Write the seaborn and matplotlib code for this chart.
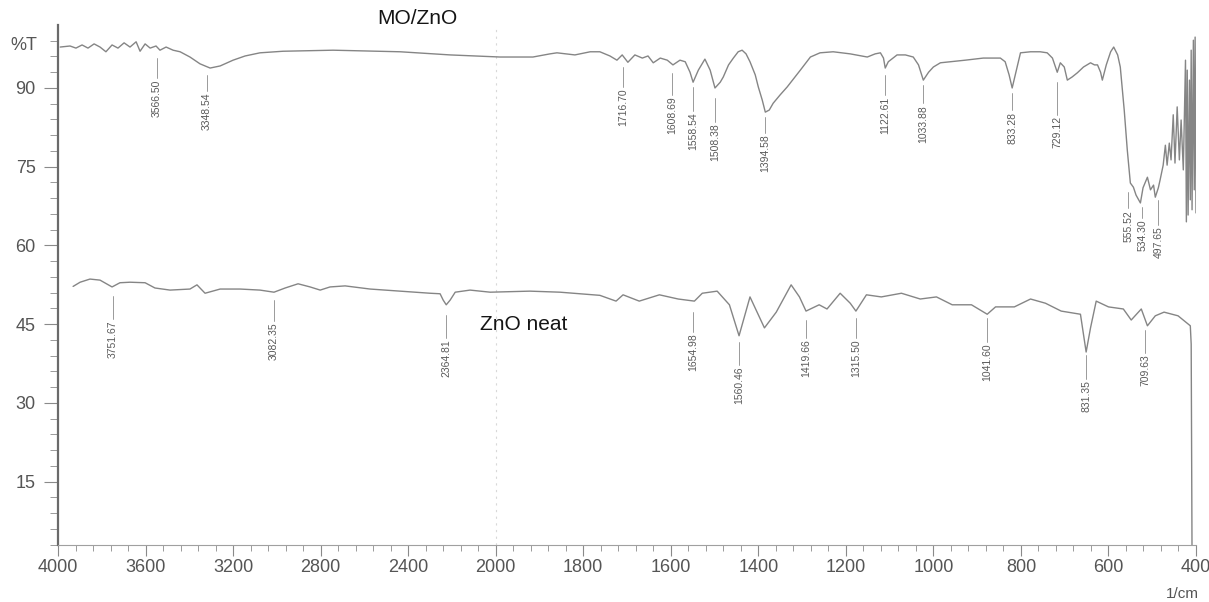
import numpy as np
import matplotlib
matplotlib.use("Agg")
import matplotlib.pyplot as plt
import seaborn as sns

# FTIR spectra (axis wavenumber, %T)
mo_wn = [3990, 3945, 3918, 3890, 3863, 3835, 3808, 3781, 3753, 3726, 3698, 3671, 3643, 3625,
         3602, 3579, 3552, 3534, 3506, 3474, 3442, 3397, 3351, 3305, 3259, 3200, 3145, 3077,
         2972, 2743, 2437, 2208, 1990, 1915, 1876, 1860, 1819, 1784, 1762, 1739, 1723, 1711,
         1698, 1682, 1665, 1652, 1640, 1624, 1608, 1595, 1579, 1567, 1556, 1549, 1537, 1522,
         1510, 1499, 1487, 1480, 1468, 1457, 1446, 1437, 1428, 1419, 1407, 1400, 1391, 1384,
         1375, 1366, 1350, 1334, 1316, 1304, 1281, 1259, 1229, 1190, 1151, 1133, 1121, 1114,
         1110, 1103, 1083, 1064, 1046, 1034, 1023, 1011, 1000, 984, 961, 927, 886, 847, 836,
         827, 820, 813, 801, 778, 756, 740, 728, 717, 710, 701, 694, 683, 671, 657, 641, 632,
         625, 618, 614, 605, 595, 588, 579, 573, 564, 557, 550, 543, 537, 527, 521, 511, 504,
         497, 493, 486, 482, 475, 470, 466, 461, 457, 452, 448, 443, 438, 434, 429, 424, 422,
         420, 418, 415, 413, 411, 409, 406, 404, 402, 400]
mo_t = [97.8, 98.0, 97.6, 98.2, 97.6, 98.4, 97.8, 96.9, 98.2, 97.6, 98.6, 97.8, 98.8, 97.0,
        98.4, 97.6, 98.0, 97.2, 97.8, 97.2, 96.9, 95.9, 94.6, 93.8, 94.2, 95.3, 96.1, 96.7,
        97.0, 97.2, 96.9, 96.3, 95.9, 95.9, 96.5, 96.7, 96.3, 96.9, 96.9, 96.1, 95.3, 96.3,
        94.9, 96.3, 95.7, 96.1, 94.8, 95.7, 95.3, 94.4, 95.3, 95.0, 93.0, 91.1, 93.4, 95.5,
        93.4, 90.0, 91.1, 92.1, 94.4, 95.7, 96.9, 97.2, 96.5, 95.0, 92.5, 90.2, 87.7, 85.4,
        85.8, 87.1, 88.7, 90.2, 92.1, 93.4, 95.9, 96.7, 96.9, 96.5, 95.9, 96.5, 96.7, 95.7,
        93.8, 95.0, 96.3, 96.3, 95.9, 94.4, 91.5, 93.0, 94.0, 94.8, 95.0, 95.3, 95.7, 95.7, 95.0,
        92.5, 90.0, 92.5, 96.7, 96.9, 96.9, 96.7, 95.7, 93.0, 94.8, 94.0, 91.5, 92.1, 92.9, 94.0,
        94.8, 94.4, 94.4, 93.0, 91.5, 94.4, 96.9, 97.8, 96.3, 94.0, 85.8, 78.2, 71.9, 71.1,
        69.6, 68.1, 71.0, 73.0, 70.6, 71.5, 69.2, 71.0, 72.5, 75.3, 79.1, 75.3, 79.5, 76.3,
        84.9, 75.7, 86.4, 76.3, 83.9, 74.4, 95.3, 64.5, 93.4, 65.8, 91.5, 68.7, 97.2, 66.8,
        99.1, 70.6, 99.7, 66.2]

zno_wn = [3931, 3899, 3854, 3808, 3753, 3717, 3671, 3602, 3557, 3488, 3397, 3365, 3328, 3259,
          3168, 3077, 3013, 2962, 2903, 2848, 2802, 2757, 2688, 2574, 2437, 2300, 2254, 2240,
          2226, 2208, 2185, 2117, 2025, 1922, 1853, 1762, 1725, 1709, 1672, 1626, 1583, 1546,
          1528, 1494, 1466, 1444, 1419, 1386, 1359, 1325, 1306, 1291, 1261, 1243, 1213, 1190,
          1177, 1153, 1119, 1073, 1030, 993, 957, 913, 877, 858, 815, 778, 744, 708, 664, 651,
          641, 628, 600, 566, 548, 525, 511, 493, 473, 441, 413, 411, 409]
zno_t = [52.2, 53.0, 53.6, 53.4, 52.1, 52.9, 53.0, 52.9, 51.9, 51.5, 51.7, 52.5, 50.9, 51.7,
         51.7, 51.5, 51.1, 51.9, 52.7, 52.1, 51.5, 52.1, 52.3, 51.7, 51.3, 50.9, 50.8, 49.6,
         48.7, 49.6, 51.1, 51.5, 51.1, 51.3, 51.1, 50.5, 49.4, 50.6, 49.4, 50.6, 49.8, 49.4,
         50.9, 51.3, 48.7, 42.8, 50.2, 44.3, 47.3, 52.5, 50.2, 47.5, 48.7, 47.9, 50.9, 49.0,
         47.5, 50.6, 50.2, 50.9, 49.8, 50.2, 48.7, 48.7, 46.9, 48.3, 48.3, 49.8, 49.0, 47.5,
         46.9, 39.7, 44.3, 49.4, 48.3, 47.9, 45.8, 47.9, 44.7, 46.6, 47.3, 46.6, 44.7, 41.2, 0.0]

# peak labels: position on axis, text, marker line top / bottom (%T)
mo_peak_wn = [3547, 3319, 1709, 1597, 1549, 1499, 1384, 1110, 1023, 820, 717, 555, 523, 486]
mo_peak_text = ["3566.50", "3348.54", "1716.70", "1608.69", "1558.54", "1508.38", "1394.58",
                "1122.61", "1033.88", "833.28", "729.12", "555.52", "534.30", "497.65"]
mo_peak_top = [95.7, 92.5, 94.0, 92.9, 90.2, 88.1, 84.5, 92.5, 90.6, 89.0, 91.1, 70.2, 67.3, 68.7]
mo_peak_bot = [91.9, 89.4, 90.2, 88.7, 85.6, 83.5, 81.4, 88.7, 87.1, 85.8, 84.9, 67.1, 65.2, 63.9]

zno_peak_wn = [3749, 3013, 2226, 1549, 1444, 1291, 1177, 877, 651, 516]
zno_peak_text = ["3751.67", "3082.35", "2364.81", "1654.98", "1560.46", "1419.66", "1315.50",
                 "1041.60", "831.35", "709.63"]
zno_peak_top = [50.4, 49.6, 46.8, 47.3, 41.6, 45.8, 46.2, 46.2, 39.1, 43.9]
zno_peak_bot = [46.0, 45.6, 42.4, 43.5, 37.2, 42.4, 42.4, 41.6, 34.6, 39.5]

x_major = [4000, 3600, 3200, 2800, 2400, 2000, 1800, 1600, 1400, 1200, 1000, 800, 600, 400]
y_major = [15, 30, 45, 60, 75, 90]

sns.set_theme(style="white")
plt.rcParams["font.family"] = ["Liberation Sans", "DejaVu Sans"]

fig = plt.figure(figsize=(12.09, 6.02), dpi=100)
ax = fig.add_axes([58 / 1209, 1 - 545 / 602, 1138 / 1209, 520 / 602])

line_kw = dict(color="#858585", linewidth=1.0, sort=False, estimator=None, ax=ax)
sns.lineplot(x=mo_wn, y=mo_t, **line_kw)
sns.lineplot(x=zno_wn, y=zno_t, **line_kw)

for wn, txt, top, bot in list(zip(mo_peak_wn, mo_peak_text, mo_peak_top, mo_peak_bot)) + \
        list(zip(zno_peak_wn, zno_peak_text, zno_peak_top, zno_peak_bot)):
    ax.plot([wn, wn], [top, bot], color="#8a8a8a", linewidth=0.6)
    ax.text(wn, bot - 0.3, txt, rotation=90, ha="center", va="top",
            fontsize=7.5, color="#5a5a5a")

ax.axvline(2000, color="#d8d8d8", linewidth=0.8, linestyle=(0, (2, 4)), zorder=0)

ax.text(2360, 103.2, "MO/ZnO", fontsize=15, color="#151515", ha="center", va="center",
        clip_on=False)
ax.text(1935, 44.9, "ZnO neat", fontsize=15, color="#151515", ha="center", va="center")


# wavenumber axis: compressed 2x above 2000 1/cm
def fwd(w):
    w = np.asarray(w, dtype=float)
    return np.where(w >= 2000, w / 2 + 1000, w)


def inv(u):
    u = np.asarray(u, dtype=float)
    return np.where(u >= 2000, (u - 1000) * 2, u)


ax.set_xscale("function", functions=(fwd, inv))
ax.set_xlim(4000, 400)
ax.set_ylim(2.94, 102.0)

ax.set_xticks(x_major)
ax.set_xticks(list(range(3920, 2000, -80)) + list(range(1960, 400, -40)), minor=True)
ax.set_xticklabels([str(v) for v in x_major])
ax.set_yticks(y_major)
ax.set_yticks([v for v in range(3, 102, 3) if v % 15 != 0], minor=True)
ax.set_yticklabels([str(v) for v in y_major])

ax.tick_params(axis="x", which="major", direction="out", length=8, width=0.8,
               color="#8a8a8a", labelsize=13, labelcolor="#555555", pad=2, bottom=True)
ax.tick_params(axis="x", which="minor", direction="out", length=4, width=0.7,
               color="#9a9a9a", bottom=True)
ax.tick_params(axis="y", which="major", direction="out", length=10, width=0.8,
               color="#8a8a8a", labelsize=13, labelcolor="#555555", pad=6, left=True)
ax.tick_params(axis="y", which="minor", direction="out", length=6, width=0.7,
               color="#9a9a9a", left=True)

for side in ["top", "right"]:
    ax.spines[side].set_visible(False)
ax.spines["left"].set_color("#6a6a6a")
ax.spines["left"].set_linewidth(1.6)
ax.spines["bottom"].set_color("#a0a0a0")
ax.spines["bottom"].set_linewidth(0.8)
ax.set_xlabel("")
ax.set_ylabel("")

fig.text(24 / 1209, 1 - 45 / 602, "%T", fontsize=13, color="#555555", ha="center", va="center")
fig.text(1182 / 1209, 1 - 594 / 602, "1/cm", fontsize=11, color="#555555",
         ha="center", va="center")

fig.savefig("out.png", dpi=100, facecolor="white")
